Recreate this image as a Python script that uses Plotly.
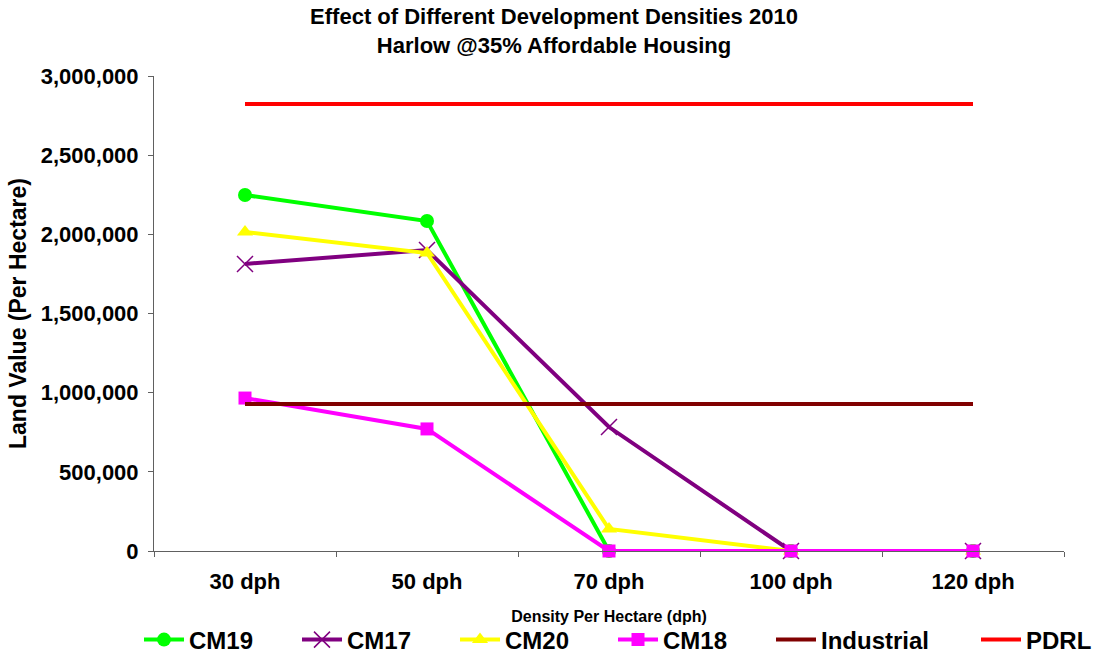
import plotly.graph_objects as go

categories = ["30 dph", "50 dph", "70 dph", "100 dph", "120 dph"]
cm19 = [2248000, 2084000, 0, 0, 0]
cm17 = [1813000, 1901000, 783000, 0, 0]
cm20 = [2015000, 1882000, 139000, 0, 0]
cm18 = [966000, 771000, 0, 0, 0]
industrial = [928000, 928000, 928000, 928000, 928000]
pdrl = [2823000, 2823000, 2823000, 2823000, 2823000]

FONT = "Liberation Sans, Arial, sans-serif"

fig = go.Figure()
fig.add_trace(go.Scatter(x=categories, y=cm19, name="<b>CM19</b>", mode="lines+markers",
                         legendwidth=103, cliponaxis=False,
                         line=dict(color="#00FF00", width=4),
                         marker=dict(symbol="circle", size=14, color="#00FF00")))
fig.add_trace(go.Scatter(x=categories, y=cm17, name="<b>CM17</b>", mode="lines+markers",
                         legendwidth=103, cliponaxis=False,
                         line=dict(color="#800080", width=4),
                         marker=dict(symbol="x-thin-open", size=16, color="#800080",
                                     line=dict(color="#800080", width=1.5))))
fig.add_trace(go.Scatter(x=categories, y=cm20, name="<b>CM20</b>", mode="lines+markers",
                         legendwidth=103, cliponaxis=False,
                         line=dict(color="#FFFF00", width=4),
                         marker=dict(symbol="triangle-up", size=14, color="#FFFF00")))
fig.add_trace(go.Scatter(x=categories, y=cm18, name="<b>CM18</b>", mode="lines+markers",
                         legendwidth=103, cliponaxis=False,
                         line=dict(color="#FF00FF", width=4),
                         marker=dict(symbol="square", size=13, color="#FF00FF")))
fig.add_trace(go.Scatter(x=categories, y=industrial, name="<b>Industrial</b>", mode="lines",
                         legendwidth=150, cliponaxis=False,
                         line=dict(color="#800000", width=4)))
fig.add_trace(go.Scatter(x=categories, y=pdrl, name="<b>PDRL</b>", mode="lines",
                         legendwidth=72, cliponaxis=False,
                         line=dict(color="#FF0000", width=4)))

fig.update_layout(
    width=1108, height=654,
    paper_bgcolor="white", plot_bgcolor="white",
    margin=dict(l=154, r=44, t=76, b=103, autoexpand=False),
    font=dict(family=FONT, color="black"),
    title=dict(text="<b>Effect of Different Development Densities 2010<br>Harlow @35% Affordable Housing</b>",
               x=0.5, xref="container", xanchor="center",
               y=1 - 24 / 654, yref="container", yanchor="top",
               font=dict(size=22, family=FONT, color="black")),
    showlegend=True,
    legend=dict(orientation="h", x=(139 - 154) / 910, xref="paper", xanchor="left",
                y=-(640 - 551) / 475, yref="paper", yanchor="middle",
                font=dict(size=24, family=FONT, color="black"),
                itemwidth=40, tracegroupgap=0, bgcolor="rgba(0,0,0,0)"),
)
fig.update_xaxes(type="category", range=[-0.5, 4.5], showline=True, linecolor="#606060",
                 linewidth=1, ticks="outside", tickson="boundaries", ticklen=5,
                 tickcolor="#606060", showgrid=False, zeroline=False, automargin=True,
                 tickfont=dict(size=22, family=FONT, color="black"),
                 ticklabelstandoff=11,
                 tickvals=categories, ticktext=["<b>" + c + "</b>" for c in categories],
                 title=dict(text="<b>Density Per Hectare (dph)</b>", standoff=17,
                            font=dict(size=16, family=FONT, color="black")))
fig.update_yaxes(range=[0, 3000000], dtick=500000, tickformat=",d", showline=True,
                 linecolor="#606060", linewidth=1, ticks="outside", ticklen=5,
                 tickcolor="#606060", showgrid=False, zeroline=False, automargin=True,
                 tickfont=dict(size=22, family=FONT, color="black"),
                 tickprefix="<b>", ticksuffix="</b>",
                 ticklabelstandoff=5,
                 title=dict(text="<b>Land Value (Per Hectare)</b>", standoff=7,
                            font=dict(size=23, family=FONT, color="black")))

fig.write_html("out.html", config={"displayModeBar": False},
               post_script="document.body.style.margin='0';")
